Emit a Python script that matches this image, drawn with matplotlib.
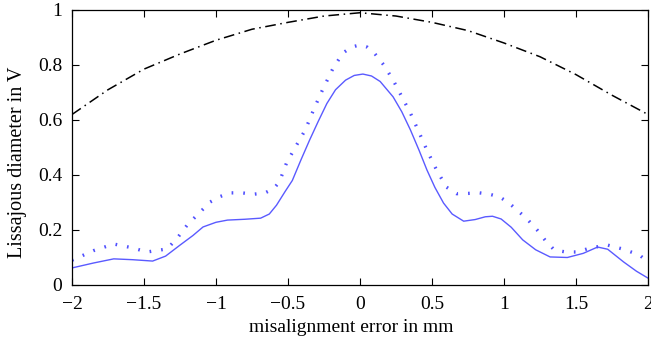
import matplotlib
matplotlib.use("Agg")
import matplotlib.pyplot as plt

plt.rcParams['font.family'] = ['Liberation Serif', 'DejaVu Serif']

# Black dash-dot curve
x_black = [-2.0, -1.75, -1.5, -1.25, -1.0, -0.75, -0.5, -0.25, 0.0,
           0.25, 0.5, 0.75, 1.0, 1.25, 1.5, 1.75, 2.0]
y_black = [0.62, 0.71, 0.785, 0.84, 0.89, 0.93, 0.955, 0.978, 0.99,
           0.978, 0.955, 0.925, 0.88, 0.83, 0.765, 0.69, 0.62]

# Blue solid curve
x_solid = [-2.0, -1.85, -1.71, -1.58, -1.44, -1.35, -1.25, -1.16, -1.09, -1.0, -0.92, -0.80,
           -0.69, -0.63, -0.58, -0.52, -0.47, -0.41, -0.35, -0.29, -0.23, -0.17, -0.10, -0.04,
           0.02, 0.08, 0.14, 0.23, 0.29, 0.35, 0.41, 0.465, 0.52, 0.58, 0.64, 0.72, 0.80,
           0.87, 0.92, 0.98, 1.05, 1.13, 1.22, 1.32, 1.44, 1.55, 1.65, 1.72, 1.83, 1.92, 2.0]
y_solid = [0.062, 0.08, 0.095, 0.092, 0.087, 0.105, 0.145, 0.18, 0.211, 0.228, 0.236, 0.239,
           0.243, 0.258, 0.29, 0.34, 0.38, 0.455, 0.527, 0.595, 0.66, 0.71, 0.745, 0.762,
           0.767, 0.76, 0.74, 0.684, 0.63, 0.564, 0.49, 0.418, 0.355, 0.298, 0.258, 0.232, 0.238,
           0.248, 0.25, 0.24, 0.21, 0.164, 0.128, 0.102, 0.100, 0.115, 0.138, 0.13, 0.084, 0.05, 0.025]

# Blue dotted curve
x_dot = [-2.0, -1.85, -1.71, -1.58, -1.48, -1.34, -1.27, -1.20, -1.12, -1.04, -0.97, -0.90,
         -0.82, -0.74, -0.66, -0.60, -0.56, -0.51, -0.45, -0.38, -0.32, -0.26, -0.19, -0.12,
         -0.06, 0.0, 0.05, 0.10, 0.165, 0.23, 0.29, 0.35, 0.41, 0.465, 0.53, 0.60, 0.67,
         0.75, 0.83, 0.90, 0.97, 1.03, 1.09, 1.16, 1.23, 1.29, 1.35, 1.43, 1.51, 1.60, 1.72,
         1.83, 1.94, 2.0]
y_dot = [0.09, 0.125, 0.149, 0.135, 0.12, 0.131, 0.17, 0.218, 0.26, 0.302, 0.322, 0.335,
         0.335, 0.33, 0.335, 0.35, 0.375, 0.444, 0.50, 0.564, 0.64, 0.71, 0.785, 0.843,
         0.865, 0.873, 0.865, 0.843, 0.80, 0.745, 0.685, 0.625, 0.555, 0.49, 0.42, 0.356, 0.332,
         0.333, 0.335, 0.33, 0.32, 0.30, 0.273, 0.24, 0.2, 0.16, 0.127, 0.12, 0.12, 0.135, 0.145,
         0.13, 0.109, 0.084]

x_ticks = [-2, -1.5, -1, -0.5, 0, 0.5, 1, 1.5, 2]
x_ticklabels = ['\u22122', '\u22121.5', '\u22121', '\u22120.5', '0', '0.5', '1', '1.5', '2']
y_ticks = [0, 0.2, 0.4, 0.6, 0.8, 1]
y_ticklabels = ['0', '0.2', '0.4', '0.6', '0.8', '1']

fig = plt.figure(figsize=(6.51, 3.42), dpi=100)
ax = fig.add_axes([0.1106, 0.1667, 0.8848, 0.8041])

ax.plot(x_black, y_black, color='black', lw=1.1, linestyle=(0, (7, 3, 1, 3)))
ax.plot(x_solid, y_solid, color='#5a5aff', lw=1.0, solid_joinstyle='round')
ax.plot(x_dot, y_dot, color='#5050ff', lw=2.4, linestyle=(0, (0.5, 3.0)),
        dash_capstyle='butt')

ax.set_xlim(-2, 2)
ax.set_ylim(0, 1)
ax.set_xticks(x_ticks)
ax.set_xticklabels(x_ticklabels)
ax.set_yticks(y_ticks)
ax.set_yticklabels(y_ticklabels)
ax.tick_params(direction='in', top=True, right=True, length=5, width=0.8,
               labelsize=14)
ax.tick_params(axis='x', pad=8)
ax.tick_params(axis='y', pad=7)
for s in ax.spines.values():
    s.set_linewidth(0.9)

ax.set_xlabel('misalignment error in mm', fontsize=14)
ax.xaxis.label.set_va('center')
ax.xaxis.set_label_coords(0.485, -0.153)
ax.set_ylabel('Lissajous diameter in V', fontsize=14.5)
ax.yaxis.label.set_va('center')
ax.yaxis.set_label_coords(-0.095, 0.447)

fig.savefig('out.png', dpi=100)
